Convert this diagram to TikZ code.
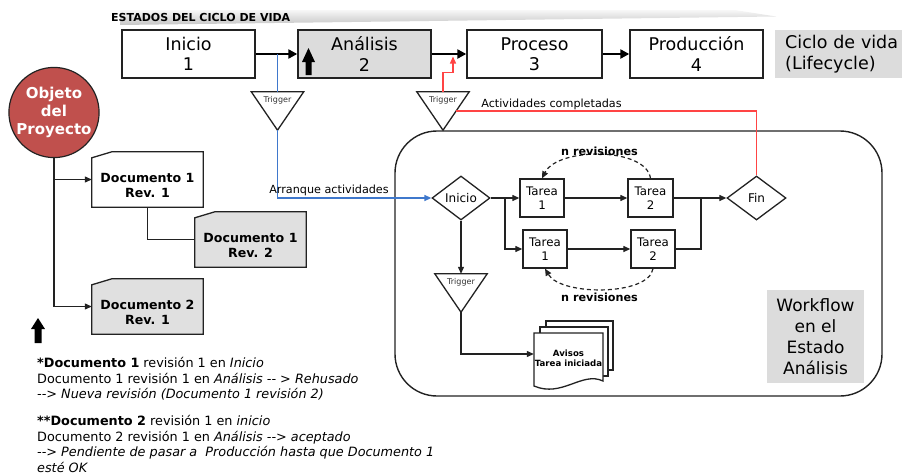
\documentclass[tikz,border=0pt]{standalone}
\usepackage{fontspec}
\setmainfont{DejaVu Sans}
\usetikzlibrary{arrows.meta,shapes.geometric,backgrounds,calc}

\definecolor{boxgray}{HTML}{DCDCDC}
\definecolor{docgray}{HTML}{E0E0E0}
\definecolor{objred}{HTML}{C0504D}
\definecolor{linkblue}{HTML}{3F78CC}
\definecolor{linkred}{HTML}{FF4444}
\definecolor{edge}{HTML}{222222}

\newcommand{\fs}[2]{\fontsize{#1}{#2}\selectfont}
% outline of a document card with a clipped upper-left corner
\newcommand{\docpath}[2]{\draw[docline, fill=#2] ([yshift=-6pt]#1.north west) -- ([xshift=20pt]#1.north west) -- (#1.north east) -- (#1.south east) -- (#1.south west) -- cycle;}
% outline of a downward trigger triangle
\newcommand{\trigpath}[1]{\draw[docline, fill=white] (#1.north west) -- (#1.north east) -- (#1.south) -- cycle;}

\begin{document}
\begin{tikzpicture}[x=1pt,y=-1pt,
  stage/.style={draw=edge, line width=1.4pt, minimum width=133pt, minimum height=48pt,
    inner sep=0pt, align=center, font=\fs{17.5}{20.5}},
  flow/.style={line width=2.8pt, -{Triangle[length=9pt,width=9pt]}},
  conn/.style={draw=edge, line width=1.2pt, -{Triangle[length=7pt,width=6pt]}},
  plain/.style={draw=edge, line width=1.2pt},
  docline/.style={draw=edge, line width=1.3pt},
  doc/.style={minimum width=111pt, minimum height=55pt, inner sep=0pt},
  doctext/.style={font=\bfseries\fs{12.6}{15.5}, align=center, yshift=-6pt},
  task/.style={draw=edge, line width=1.3pt, minimum width=44pt, minimum height=38pt,
    inner sep=0pt, align=center, font=\fs{11.8}{14}},
  decide/.style={diamond, draw=edge, line width=1.3pt, minimum width=58pt, minimum height=44pt,
    inner sep=0pt, font=\fs{12}{14}},
  trig/.style={minimum width=52pt, minimum height=38pt, inner sep=0pt},
  trigtext/.style={anchor=north, yshift=-3pt, inner sep=1pt, font=\fs{8}{9}, text=black!80},
  blueline/.style={draw=linkblue, line width=1.3pt},
  redline/.style={draw=linkred, line width=1.3pt},
  small/.style={font=\fs{11.2}{13}},
  rev/.style={font=\bfseries\fs{11.2}{13}},
  revdash/.style={dash pattern=on 4pt off 3pt},
  note/.style={anchor=north west, align=left, inner sep=0pt, font=\fs{12.8}{15.6}}
]
\useasboundingbox (0,0) rectangle (902,474);

% ---- header bar ----
\shade[top color=gray!6, bottom color=gray!45] (120,10) -- (735,10) -- (776,16.5) -- (120,25) -- cycle;
\node[anchor=west, inner sep=0pt, font=\bfseries\fs{11}{13}] (hdr) at (111,17.5) {ESTADOS DEL CICLO DE VIDA};

% ---- lifecycle states ----
\node[stage] (s1) at (188.5,54) {Inicio\\1};
\node[stage, fill=boxgray] (s2) at (364.5,54) {Análisis\\2};
\node[stage, minimum width=135pt] (s3) at (534.5,54) {Proceso\\3};
\node[stage] (s4) at (696.5,54) {Producción\\4};
\node[fill=boxgray, anchor=west, minimum height=48pt, text width=125pt,
  inner xsep=10pt, inner ysep=0pt, align=left, font=\fs{17.5}{21}] (cyc) at (775,54)
  {Ciclo de vida\\(Lifecycle)};

\draw[flow] (s1) -- (s2);
\draw[flow] (s2) -- (s3);
\draw[flow] (s3) -- (s4);

% marker arrow inside the current state
\fill (305.5,75) -- (311.5,75) -- (311.5,62) -- (315,62) -- (308.5,48) -- (302,62) -- (305.5,62) -- cycle;

% ---- workflow frame ----
\draw[draw=edge, line width=1.4pt, rounded corners=42pt] (395,131) rectangle (882,396);

% ---- triggers ----
\node[trig, label={[trigtext]north:Trigger}] (tr1) at (277.5,111) {};
\node[trig, label={[trigtext]north:Trigger}] (tr2) at (443,111) {};
\node[trig, label={[trigtext]north:Trigger}] (tr3) at (461,293) {};
\begin{scope}[on background layer]
  \trigpath{tr1}
  \trigpath{tr2}
  \trigpath{tr3}
\end{scope}

% ---- workflow steps ----
\node[decide, fill=white] (wi) at (461,198) {Inicio};
\node[task] (t1a) at (542,198) {Tarea\\1};
\node[task, minimum width=45pt] (t2a) at (650.5,198) {Tarea\\2};
\node[task] (t1b) at (545,249) {Tarea\\1};
\node[task] (t2b) at (653,249) {Tarea\\2};
\node[decide, minimum width=59pt] (fin) at (756.5,198) {Fin};
\coordinate (split) at (505,198);
\coordinate (merge) at (701,198);

\draw[plain] (wi.east) -- (split);
\draw[conn] (split) -- (t1a.west);
\draw[conn] (split) |- (t1b.west);
\draw[conn] (t1a) -- (t2a);
\draw[conn] (t1b) -- (t2b);
\draw[conn] (t2a.east) -- (fin.west);
\draw[plain] (t2b.east) -| (merge);

\draw[conn, revdash] (t2a.north) .. controls (646,147) and (558,147) .. (t1a.north);
\node[rev] (nr1) at (599.5,151) {n revisiones};
\draw[conn, revdash] (t2b.south) .. controls (649,296) and (561,296) .. (t1b.south);
\node[rev] (nr2) at (599.5,297) {n revisiones};

% notification stack
\draw[docline, fill=white] (546,321) rectangle (613,370);
\draw[docline, fill=white] (540,327) rectangle (608,376);
\draw[docline, fill=white] (534,333) -- (603,333) -- (603,381) .. controls (582,371) and (562,398) .. (534,386) -- cycle;
\node[font=\bfseries\fs{8.6}{10}, minimum width=69pt, inner sep=0pt, align=center] (avisos) at (568.5,358) {Avisos\\Tarea iniciada};

\draw[conn] (wi.south) -- (tr3.north);
\draw[conn] (tr3.south) |- ([yshift=4pt]avisos.west);

\node[fill=boxgray, minimum width=97pt, minimum height=93pt, inner sep=0pt, align=center,
  font=\fs{17}{21}] (wfl) at (815.5,336.5) {Workflow\\en el\\Estado\\Análisis};

% ---- trigger links ----
\coordinate (bt) at (277.5,54);
\draw[blueline] (bt) -- (tr1.north);
\draw[blueline, -{Triangle[length=7pt,width=6pt]}] (tr1.south) |- (wi.west);
\node[small] (arr) at (329,190) {Arranque actividades};

\coordinate (rt) at (453,56.5);
\draw[redline, -{Triangle[length=7pt,width=6pt]}] (tr2.north) -- ++(0,-19) -| (rt);
\draw[redline] ($(tr2.north east)!0.5!(tr2.south)$) -| (fin.north);
\node[small] (act) at (551.5,104) {Actividades completadas};

% ---- project object and documents ----
\node[circle, fill=objred, draw=edge, line width=1.2pt, minimum size=89pt, inner sep=0pt,
  align=center, text=white, font=\bfseries\fs{15}{18}] (obj) at (54,112.5) {Objeto\\del\\Proyecto};

\node[doc, label={[doctext]center:{Documento 1\\Rev. 1}}] (d1) at (147.5,179.5) {};
\node[doc, label={[doctext]center:{Documento 1\\Rev. 2}}] (d1b) at (250.5,239.5) {};
\node[doc, label={[doctext]center:{Documento 2\\Rev. 1}}] (d2) at (147.5,306.5) {};
\begin{scope}[on background layer]
  \docpath{d1}{white}
  \docpath{d1b}{docgray}
  \docpath{d2}{docgray}
\end{scope}

\draw[conn] (obj.south) |- (d2.west);
\draw[conn] (obj.south |- d1.west) -- (d1.west);
\draw[plain] (d1.south) |- (d1b.west);

\fill (34.5,343) -- (41.5,343) -- (41.5,329) -- (45,329) -- (38,318) -- (31,329) -- (34.5,329) -- cycle;

% ---- notes ----
\node[note] (n1) at (37,357) {\textbf{*Documento 1} revisión 1 en \textit{Inicio}\\
  Documento 1 revisión 1 en \textit{Análisis -{}- > Rehusado}\\
  \textit{-{}-> Nueva revisión (Documento 1 revisión 2)}};
\node[note] (n2) at (37,415) {\textbf{**Documento 2} revisión 1 en \textit{inicio}\\
  Documento 2 revisión 1 en \textit{Análisis -{}-> aceptado}\\
  \textit{-{}-> Pendiente de pasar a\ \ Producción hasta que Documento 1}\\
  \textit{esté OK}};
\end{tikzpicture}
\end{document}
